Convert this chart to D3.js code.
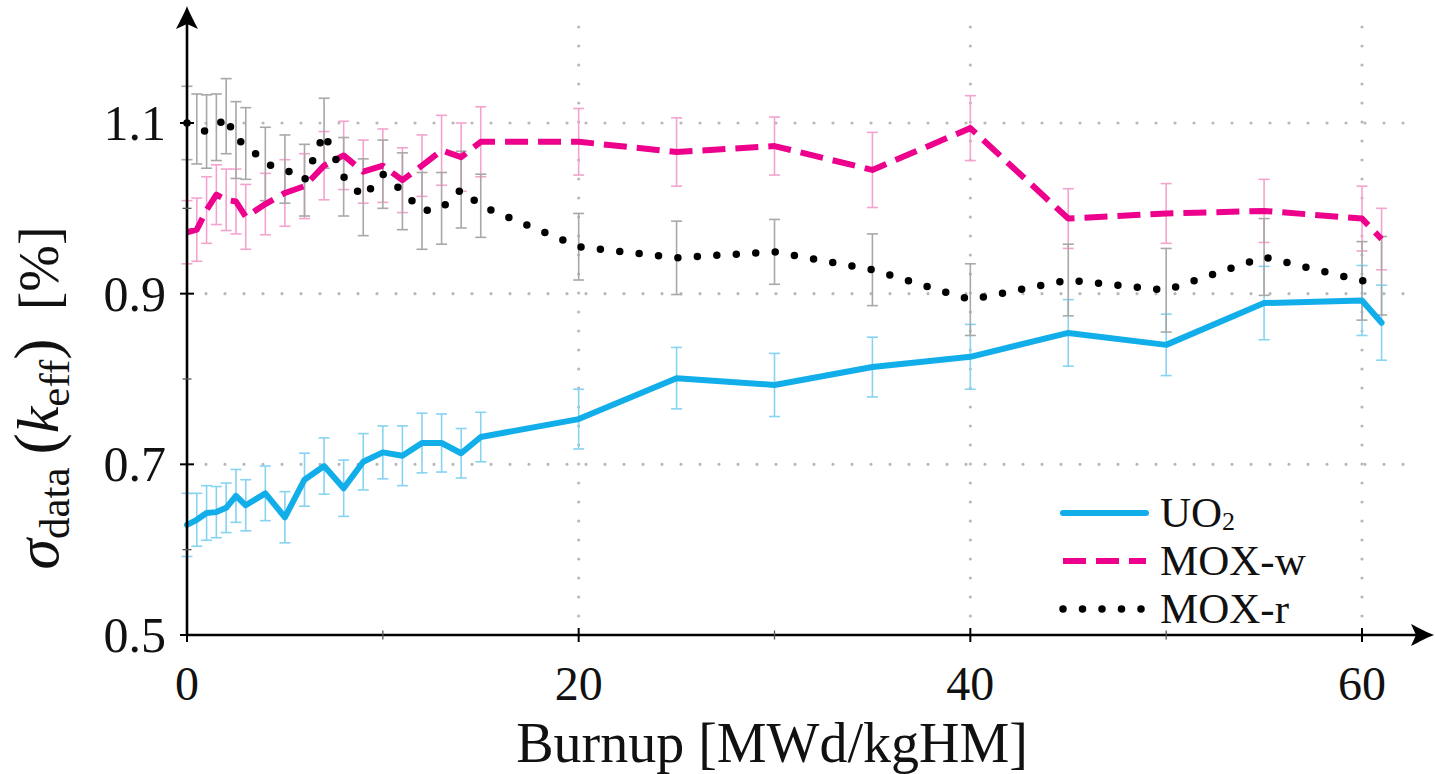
<!DOCTYPE html>
<html>
<head>
<meta charset="utf-8">
<script src="https://cdn.jsdelivr.net/npm/d3@7"></script>
<style>
  html, body { margin: 0; padding: 0; background: #fff; }
  svg { display: block; }
</style>
</head>
<body>
<svg id="chart" width="1435" height="774"></svg>
<script>
// Burnup steps [MWd/kgHM]
const burnup = [0, 0.5, 1, 1.5, 2, 2.5, 3, 4, 5, 6, 7, 8, 9, 10, 11, 12, 13, 14, 15,
                20, 25, 30, 35, 40, 45, 50, 55, 60, 61];

// sigma_data(k_eff) [%] and its statistical uncertainty, per fuel type
const uo2 = [0.629, 0.635, 0.643, 0.644, 0.649, 0.663, 0.652, 0.666, 0.638, 0.682,
             0.698, 0.672, 0.703, 0.714, 0.710, 0.725, 0.725, 0.713, 0.732,
             0.753, 0.801, 0.793, 0.814, 0.826, 0.854, 0.840, 0.889, 0.892, 0.866];
const uo2Err = [0.037, 0.031, 0.032, 0.030, 0.029, 0.031, 0.030, 0.032, 0.030, 0.031,
                0.033, 0.033, 0.033, 0.031, 0.035, 0.035, 0.034, 0.029, 0.029,
                0.035, 0.036, 0.037, 0.035, 0.038, 0.039, 0.036, 0.043, 0.041, 0.044];

const moxW = [0.972, 0.975, 0.998, 1.016, 1.010, 1.008, 0.990, 1.005, 1.018, 1.026,
              1.050, 1.062, 1.043, 1.050, 1.033, 1.050, 1.068, 1.060, 1.078,
              1.078, 1.066, 1.073, 1.045, 1.094, 0.988, 0.994, 0.997, 0.988, 0.964];
const moxWErr = [0.037, 0.037, 0.039, 0.035, 0.036, 0.038, 0.038, 0.036, 0.039, 0.038,
                 0.040, 0.040, 0.037, 0.043, 0.038, 0.036, 0.041, 0.040, 0.041,
                 0.039, 0.040, 0.034, 0.044, 0.038, 0.035, 0.035, 0.037, 0.038, 0.036];

const moxR = [1.100, 1.093, 1.090, 1.095, 1.108, 1.080, 1.076, 1.052, 1.046, 1.033,
              1.088, 1.037, 1.013, 1.040, 1.020, 0.997, 1.000, 1.022, 1.003,
              0.955, 0.942, 0.949, 0.928, 0.893, 0.916, 0.904, 0.943, 0.915, 0.921];
const moxRErr = [0.043, 0.041, 0.043, 0.039, 0.044, 0.045, 0.042, 0.043, 0.040, 0.042,
                 0.041, 0.046, 0.045, 0.040, 0.045, 0.045, 0.042, 0.045, 0.037,
                 0.039, 0.043, 0.038, 0.042, 0.042, 0.042, 0.049, 0.045, 0.046, 0.046];

// Axis ticks
const xTicks = [0, 20, 40, 60];
const xMinorTicks = [10, 30, 50];
const yTicks = [0.5, 0.7, 0.9, 1.1];
const yMinorTicks = [0.6, 0.8, 1.0];

// Legend entries
const seriesLabels = [["UO", "2"], ["MOX-w", ""], ["MOX-r", ""]];

const FONT = "'Liberation Serif', 'DejaVu Serif', serif";
const svg = d3.select("#chart").attr("font-family", FONT);

const x = d3.scaleLinear().domain([0, 60]).range([187, 1362]);
const y = d3.scaleLinear().domain([0.5, 1.1]).range([635, 123]);
const xEnd = 62.5, yEnd = 1.225;       // extent of the axis box
const x0 = x(0), y0 = y(0.5);

const series = [
  { vals: uo2,  err: uo2Err,  color: "#12aeea", bar: "#86d3f2", dash: null,     width: 6, cap: "round" },
  { vals: moxW, err: moxWErr, color: "#ec008c", bar: "#f4a3cf", dash: "23 10",  width: 6, cap: "butt" },
  { vals: moxR, err: moxRErr, color: "#000000", bar: "#a8a8a8", dash: "0 19.5", width: 7.5, cap: "round" }
];

// ---- dotted grid ----
const grid = svg.append("g").attr("stroke", "#b8b8b8").attr("stroke-width", 3.2)
  .attr("stroke-linecap", "round").attr("stroke-dasharray", "0 19");
grid.selectAll("line.h").data(yTicks.filter(v => v > 0.5)).join("line")
  .attr("x1", x0).attr("x2", x(xEnd)).attr("y1", d => y(d)).attr("y2", d => y(d));
grid.selectAll("line.v").data(xTicks.filter(v => v > 0)).join("line")
  .attr("y1", y0).attr("y2", y(yEnd)).attr("x1", d => x(d)).attr("x2", d => x(d));

// ---- error bars ----
series.forEach(s => {
  const g = svg.append("g").attr("stroke", s.bar).attr("stroke-width", 1.6).attr("fill", "none");
  burnup.forEach((b, i) => {
    const cx = x(b), top = y(s.vals[i] + s.err[i]), bot = y(s.vals[i] - s.err[i]);
    g.append("line").attr("x1", cx).attr("x2", cx).attr("y1", top).attr("y2", bot);
    g.append("line").attr("x1", cx - 5.5).attr("x2", cx + 5.5).attr("y1", top).attr("y2", top);
    g.append("line").attr("x1", cx - 5.5).attr("x2", cx + 5.5).attr("y1", bot).attr("y2", bot);
  });
});

// ---- series lines ----
const line = d3.line().x((d, i) => x(burnup[i])).y(d => y(d));
series.forEach(s => {
  svg.append("path").datum(s.vals)
    .attr("d", line)
    .attr("fill", "none")
    .attr("stroke", s.color)
    .attr("stroke-width", s.width)
    .attr("stroke-linejoin", "round")
    .attr("stroke-linecap", s.cap)
    .attr("stroke-dasharray", s.dash);
});

// ---- axes ----
const axes = svg.append("g").attr("stroke", "#000");
axes.append("line").attr("x1", x0).attr("x2", 1420).attr("y1", y0).attr("y2", y0).attr("stroke-width", 2.6);
axes.append("line").attr("x1", x0).attr("x2", x0).attr("y1", y0).attr("y2", 22).attr("stroke-width", 2.6);

const arrow = "M0,0 C-6,-2 -15,-7 -23,-11 L-18,0 L-23,11 C-15,7 -6,2 0,0 Z";
svg.append("path").attr("d", arrow).attr("fill", "#000").attr("transform", `translate(1434,${y0})`);
svg.append("path").attr("d", arrow).attr("fill", "#000").attr("transform", `translate(${x0},6) rotate(-90)`);

// ticks
axes.selectAll("line.yt").data(yTicks).join("line")
  .attr("x1", x0 - 7).attr("x2", x0 + 7).attr("y1", d => y(d)).attr("y2", d => y(d)).attr("stroke-width", 2);
axes.selectAll("line.ym").data(yMinorTicks).join("line")
  .attr("x1", x0 - 4.5).attr("x2", x0 + 4.5).attr("y1", d => y(d)).attr("y2", d => y(d))
  .attr("stroke-width", 1.3).attr("stroke", "#555");
axes.selectAll("line.xt").data(xTicks).join("line")
  .attr("y1", y0 - 7).attr("y2", y0 + 7).attr("x1", d => x(d)).attr("x2", d => x(d)).attr("stroke-width", 2);
axes.selectAll("line.xm").data(xMinorTicks).join("line")
  .attr("y1", y0 - 4.5).attr("y2", y0 + 4.5).attr("x1", d => x(d)).attr("x2", d => x(d))
  .attr("stroke-width", 1.3).attr("stroke", "#555");

// tick labels
svg.selectAll("text.yl").data(yTicks).join("text")
  .attr("x", 166).attr("y", d => y(d) + 17)
  .attr("text-anchor", "end").attr("font-size", 50).attr("fill", "#111")
  .text(d => d3.format(".1f")(d));
svg.selectAll("text.xl").data(xTicks).join("text")
  .attr("x", d => x(d)).attr("y", 700)
  .attr("text-anchor", "middle").attr("font-size", 48).attr("fill", "#111")
  .text(d => d);

// axis titles
svg.append("text").attr("x", 772).attr("y", 762).attr("text-anchor", "middle")
  .attr("font-size", 56).attr("fill", "#111").text("Burnup [MWd/kgHM]");

const yt = svg.append("text").attr("transform", "translate(58,398) rotate(-90)")
  .attr("text-anchor", "middle").attr("font-size", 56).attr("fill", "#111");
yt.append("tspan").attr("font-style", "italic").attr("font-size", 62).text("σ");
yt.append("tspan").attr("font-size", 43).attr("dy", 11).text("data");
yt.append("tspan").attr("dy", -11).attr("font-size", 64).text("\u2009(");
yt.append("tspan").attr("font-style", "italic").attr("font-size", 60).text("k");
yt.append("tspan").attr("font-size", 43).attr("dy", 11).text("eff");
yt.append("tspan").attr("dy", -11).attr("font-size", 64).text(")");
yt.append("tspan").text("\u2002[%]");

// ---- legend ----
const legend = svg.append("g");
const legendY = [513, 561, 609];
series.forEach((s, i) => {
  legend.append("line")
    .attr("x1", 1063).attr("x2", 1146).attr("y1", legendY[i]).attr("y2", legendY[i])
    .attr("stroke", s.color).attr("stroke-width", s.width)
    .attr("stroke-linecap", s.cap).attr("stroke-dasharray", s.dash);
  const t = legend.append("text").attr("x", 1160).attr("y", legendY[i] + 14)
    .attr("font-size", 43).attr("fill", "#111");
  t.append("tspan").text(seriesLabels[i][0]);
  if (seriesLabels[i][1]) t.append("tspan").attr("font-size", 26).attr("dy", 3).text(seriesLabels[i][1]);
});
</script>
</body>
</html>
